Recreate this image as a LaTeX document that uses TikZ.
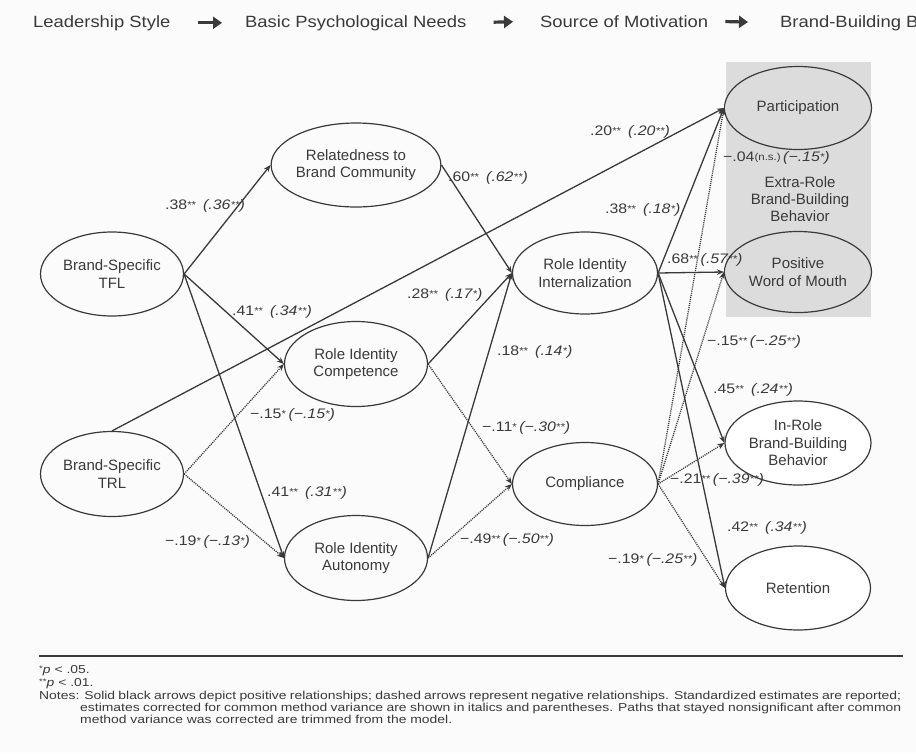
\documentclass[tikz,border=0pt]{standalone}
\usepackage{fontspec}
\setmainfont{Liberation Sans}
\newfontfamily\widefont[FakeStretch=1.15]{Liberation Sans}
\newfontfamily\notefont[FakeStretch=1.21]{Liberation Sans}
\usetikzlibrary{shapes.geometric,arrows.meta}
\definecolor{ink}{HTML}{3A3A3A}
\definecolor{boxgrey}{HTML}{DCDCDC}
\definecolor{paper}{HTML}{FBFBFB}

% small raised significance marks
\newcommand\sig[1]{\raisebox{1.4pt}{\fontsize{10}{10}\selectfont #1}}
% estimate with the corrected value in italics and parentheses
\newcommand\estpos[2]{#1\hspace{7pt}\textit{(#2)}}
\newcommand\estneg[2]{#1\hspace{2.5pt}\textit{(#2)}}

\tikzset{
  construct/.style={ellipse, draw=ink, line width=1.2pt, minimum width=143pt,
    minimum height=84pt, inner sep=0pt, align=center, text=ink,
    font=\fontsize{15}{17.5}\selectfont},
  posarrow/.style={draw=ink, line width=1.3pt, -{Stealth[length=7pt,width=5.5pt]}},
  negarrow/.style={posarrow, line width=1.3pt, dash pattern=on 1.1pt off 1pt},
  est/.style={anchor=west, inner sep=0pt, text=ink,
    font=\widefont\fontsize{13.8}{15}\selectfont},
  hdr/.style={anchor=base west, inner sep=0pt, text=ink,
    font=\fontsize{16.3}{18}\selectfont\addfontfeatures{FakeStretch=1.13}},
  hdrarrow/.style={draw=ink, line width=3.2pt, -{Triangle[length=9pt,width=12pt]}},
  foot/.style={anchor=base west, inner sep=0pt, text=ink,
    font=\notefont\fontsize{11.5}{13}\selectfont},
}

\begin{document}
\begin{tikzpicture}[x=1pt, y=-1pt]
\useasboundingbox (0,0) rectangle (916,753);
\fill[paper] (0,0) rectangle (916,753);

\begin{scope}
\clip (0,0) rectangle (916,753);
% column headings
\node[hdr] (h1) at (33,27) {Leadership Style};
\node[hdr] (h2) at (245,27) {Basic Psychological Needs};
\node[hdr] (h3) at (540,27) {Source of Motivation};
\node[hdr] (h4) at (780,27) {Brand-Building Behavior};
\draw[hdrarrow, shorten <=27pt, shorten >=23pt] (h1.east) -- (h2.west);
\draw[hdrarrow, shorten <=27pt, shorten >=27pt] (h2.east) -- (h3.west);
\draw[hdrarrow, shorten <=17pt, shorten >=32pt] (h3.east) -- (h4.west);
\end{scope}

% extra-role block
\fill[boxgrey] (726,62) rectangle (871,317);

% constructs
\node[construct] (tfl) at (112,274) {Brand-Specific\\TFL};
\node[construct, minimum height=85pt] (trl) at (112,474) {Brand-Specific\\TRL};
\node[construct] (rel) at (356,165) {Relatedness to\\Brand Community};
\node[construct, minimum height=85pt] (comp) at (356,364) {Role Identity\\Competence};
\node[construct, minimum height=85pt] (auto) at (356,558) {Role Identity\\Autonomy};
\node[construct, minimum width=145pt, minimum height=82pt] (intern) at (585,273) {Role Identity\\Internalization};
\node[construct, minimum width=145pt, minimum height=83pt] (compl) at (585,484) {Compliance};
\node[construct, minimum width=147pt, minimum height=83pt] (part) at (798,108) {Participation};
\node[construct, minimum width=147pt, minimum height=81pt] (wom) at (798,272) {Positive\\Word of Mouth};
\node[construct, minimum width=146pt, fill=white] (inrole) at (798,443) {In-Role\\Brand-Building\\Behavior};
\node[construct, minimum width=145pt, fill=white] (ret) at (798,588) {Retention};
\node[align=center, text=ink, inner sep=0pt, font=\fontsize{15}{17.2}\selectfont] (xrole) at (800,199) {Extra-Role\\Brand-Building\\Behavior};

% positive paths
\draw[posarrow] (tfl.east) -- (rel.west);
\draw[posarrow] (tfl.east) -- (comp.west);
\draw[posarrow] (tfl.east) -- (auto.west);
\draw[posarrow] (trl.north) -- (part.west);
\draw[posarrow] (rel.east) -- (intern.west);
\draw[posarrow] (comp.east) -- (intern.west);
\draw[posarrow] (auto.east) -- (intern.west);
\draw[posarrow] (intern.east) -- (part.west);
\draw[posarrow] (intern.east) -- (wom.west);
\draw[posarrow] (intern.east) -- (inrole.west);
\draw[posarrow] (intern.east) -- (ret.west);

% negative paths
\draw[negarrow] (trl.east) -- (comp.west);
\draw[negarrow] (trl.east) -- (auto.west);
\draw[negarrow] (comp.east) -- (compl.west);
\draw[negarrow] (auto.east) -- (compl.west);
\draw[negarrow] (compl.east) -- (part.west);
\draw[negarrow] (compl.east) -- (wom.west);
\draw[negarrow] (compl.east) -- (inrole.west);
\draw[negarrow] (compl.east) -- (ret.west);

% path estimates
\node[est] (e1) at (165,206) {\estpos{.38\sig{**}}{.36\sig{**}}};
\node[est] (e2) at (232,312) {\estpos{.41\sig{**}}{.34\sig{**}}};
\node[est] (e3) at (250,415) {\estneg{−.15\sig{*}}{−.15\sig{*}}};
\node[est] (e4) at (267,493) {\estpos{.41\sig{**}}{.31\sig{**}}};
\node[est] (e5) at (165,542) {\estneg{−.19\sig{*}}{−.13\sig{*}}};
\node[est] (e6) at (448,178) {\estpos{.60\sig{**}}{.62\sig{**}}};
\node[est] (e7) at (407,295) {\estpos{.28\sig{**}}{.17\sig{*}}};
\node[est] (e8) at (497,352) {\estpos{.18\sig{**}}{.14\sig{*}}};
\node[est] (e9) at (482,428) {\estneg{−.11\sig{*}}{−.30\sig{**}}};
\node[est] (e10) at (460,540) {\estneg{−.49\sig{**}}{−.50\sig{**}}};
\node[est] (e11) at (590,132) {\estpos{.20\sig{**}}{.20\sig{**}}};
\node[est] (e12) at (605,210) {\estpos{.38\sig{**}}{.18\sig{*}}};
\node[est] (e13) at (667,260) {\estneg{.68\sig{**}}{.57\sig{**}}};
\node[est] (e14) at (723,158) {\estneg{−.04\sig{(n.s.)}}{−.15\sig{*}}};
\node[est] (e15) at (707,342) {\estneg{−.15\sig{**}}{−.25\sig{**}}};
\node[est] (e16) at (713,390) {\estpos{.45\sig{**}}{.24\sig{**}}};
\node[est] (e17) at (670,480) {\estneg{−.21\sig{**}}{−.39\sig{**}}};
\node[est] (e18) at (727,528) {\estpos{.42\sig{**}}{.34\sig{**}}};
\node[est] (e19) at (608,560) {\estneg{−.19\sig{*}}{−.25\sig{**}}};

% notes
\draw[ink, line width=1.6pt] (39,656) -- (903,656);
\node[foot] (n1) at (39,673) {\raisebox{1.5pt}{\fontsize{8}{8}\selectfont *}\textit{p} < .05.};
\node[foot] (n2) at (39,686) {\raisebox{1.5pt}{\fontsize{8}{8}\selectfont **}\textit{p} < .01.};
\node[foot] (n3) at (39,699) {\makebox[862pt][s]{Notes: Solid black arrows depict positive relationships; dashed arrows represent negative relationships. Standardized estimates are reported;}};
\node[foot] (n4) at (80,711) {\makebox[821pt][s]{estimates corrected for common method variance are shown in italics and parentheses. Paths that stayed nonsignificant after common}};
\node[foot] (n5) at (80,723) {method variance was corrected are trimmed from the model.};
\end{tikzpicture}
\end{document}
